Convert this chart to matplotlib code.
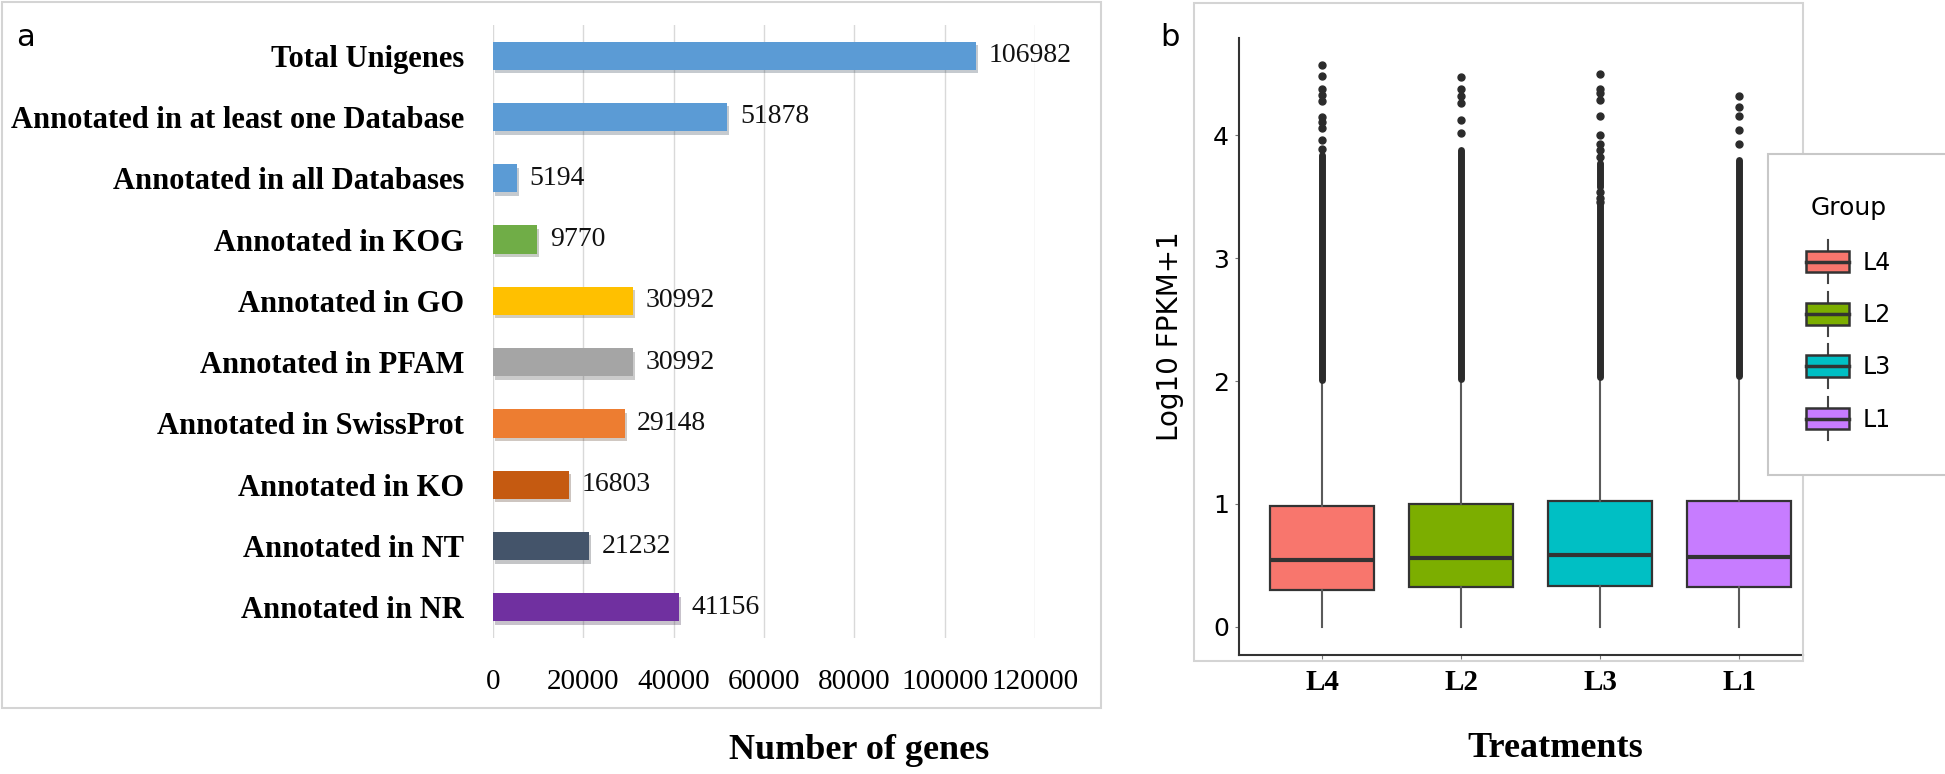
"""
Gene annotation summary (a) and FPKM distribution per treatment (b)
"""
import matplotlib
matplotlib.use('Agg')
from matplotlib import pyplot as plt, ticker, patheffects
from matplotlib.patches import Rectangle, Patch
from matplotlib.lines import Line2D
from matplotlib.legend_handler import HandlerBase

# ---- panel a data ----
categories = ['Total Unigenes', 'Annotated in at least one Database', 'Annotated in all Databases',
              'Annotated in KOG', 'Annotated in GO', 'Annotated in PFAM', 'Annotated in SwissProt',
              'Annotated in KO', 'Annotated in NT', 'Annotated in NR']
gene_counts = [106982, 51878, 5194, 9770, 30992, 30992, 29148, 16803, 21232, 41156]
bar_colors = ['#5b9bd5', '#5b9bd5', '#5b9bd5', '#70ad47', '#ffc000', '#a5a5a5',
              '#ed7d31', '#c55a11', '#44546a', '#7030a0']
x_ticks = [0, 20000, 40000, 60000, 80000, 100000, 120000]

# ---- panel b data ----
groups = ['L4', 'L2', 'L3', 'L1']
q1 = [0.30, 0.32, 0.33, 0.325]
medians = [0.54, 0.56, 0.585, 0.57]
q3 = [0.98, 1.00, 1.02, 1.02]
whisker_low = [0.0, 0.0, 0.0, 0.0]
whisker_high = [2.01, 2.02, 2.03, 2.04]
# runs of outliers so dense they merge into a solid column
dense_outliers = [[(2.01, 3.84)],
                  [(2.02, 3.88)],
                  [(2.03, 3.43), (3.58, 3.77)],
                  [(2.04, 3.80)]]
sparse_outliers = [[4.57, 4.48, 4.38, 4.33, 4.28, 4.15, 4.11, 4.06, 3.96, 3.89],
                   [4.47, 4.38, 4.32, 4.26, 4.12, 4.02],
                   [4.50, 4.38, 4.34, 4.29, 4.16, 4.00, 3.93, 3.88, 3.82, 3.54, 3.49, 3.46],
                   [4.32, 4.23, 4.16, 4.04, 3.93]]
group_colors = ['#f8766d', '#7cae00', '#00bfc4', '#c77cff']

SERIF = ['Liberation Serif', 'DejaVu Serif']
SANS = ['DejaVu Sans']
plt.rcParams['font.family'] = SANS


class BoxKeyHandler(HandlerBase):
    """legend key drawn like a small ggplot box"""
    def create_artists(self, legend, orig_handle, xdescent, ydescent, width, height, fontsize, trans):
        x0, y0 = -xdescent, -ydescent
        cx = x0 + width / 2
        whisk = Line2D([cx, cx], [y0 - 0.5 * height, y0 + 1.5 * height], color='#444444', lw=1.5)
        box = Rectangle((x0, y0), width, height, facecolor=orig_handle.get_facecolor(),
                        edgecolor='#333333', lw=1.8)
        med = Line2D([x0, x0 + width], [y0 + height / 2] * 2, color='#333333', lw=2.5)
        for art in (whisk, box, med):
            art.set_transform(trans)
        return [whisk, box, med]


def draw_bars(ax):
    pos = range(len(categories))
    bars = ax.barh(pos, gene_counts, height=0.46, color=bar_colors, zorder=3)
    for b in bars:
        b.set_path_effects([patheffects.SimplePatchShadow(offset=(1.5, -2.5), alpha=0.25),
                            patheffects.Normal()])
    ax.bar_label(bars, labels=[str(v) for v in gene_counts], padding=9,
                 fontsize=20, family=SERIF, color='#111111')
    ax.set_xlim(0, 120000)
    ax.set_ylim(len(categories) - 0.5, -0.5)
    ax.set_xticks(x_ticks)
    ax.xaxis.set_major_formatter(ticker.StrMethodFormatter('{x:.0f}'))
    ax.set_yticks(list(pos))
    ax.set_yticklabels(categories, fontsize=22, fontweight='bold', family=SERIF)
    for lab in ax.get_xticklabels():
        lab.set_fontsize(21)
        lab.set_family(SERIF)
    ax.tick_params(axis='y', length=0, pad=21)
    ax.tick_params(axis='x', length=0, pad=22)
    ax.grid(axis='x', color='#d9d9d9', lw=1)
    ax.set_axisbelow(True)
    for s in ax.spines.values():
        s.set_visible(False)
    ax.set_xlabel('Number of genes', fontsize=26, fontweight='bold', family=SERIF)
    ax.xaxis.set_label_coords(0.675, -0.183)
    ax.xaxis.label.set_va('center')


def draw_boxes(ax):
    stats = []
    for i, g in enumerate(groups):
        stats.append(dict(label=g, q1=q1[i], med=medians[i], q3=q3[i],
                          whislo=whisker_low[i], whishi=whisker_high[i],
                          fliers=sparse_outliers[i]))
    pos = list(range(1, len(groups) + 1))
    res = ax.bxp(stats, positions=pos, widths=0.75, patch_artist=True, showcaps=False,
                 boxprops=dict(edgecolor='#333333', lw=1.6),
                 medianprops=dict(color='#333333', lw=3),
                 whiskerprops=dict(color='#5a5a5a', lw=1.5),
                 flierprops=dict(marker='o', markersize=5, markerfacecolor='#2b2b2b',
                                 markeredgecolor='#2b2b2b'))
    for patch, c in zip(res['boxes'], group_colors):
        patch.set_facecolor(c)
    for p, runs in zip(pos, dense_outliers):
        for lo, hi in runs:
            ax.vlines(p, lo, hi, colors='#2b2b2b', lw=5, capstyle='round', zorder=3)

    ax.set_xlim(0.4, 4.46)
    ax.set_ylim(-0.23, 4.79)
    ax.set_xticks(pos)
    ax.set_xticklabels(groups, fontsize=21, fontweight='bold', family=SERIF)
    ax.set_yticks([0, 1, 2, 3, 4])
    ax.tick_params(axis='y', labelsize=18, length=3, color='#777777', pad=4)
    ax.tick_params(axis='x', length=3, color='#777777', pad=7)
    for s in ('top', 'right'):
        ax.spines[s].set_visible(False)
    for s in ('left', 'bottom'):
        ax.spines[s].set_color('#333333')
        ax.spines[s].set_linewidth(1.5)
    ax.set_ylabel('Log10 FPKM+1', fontsize=20)
    ax.yaxis.set_label_coords(-0.122, 0.517)
    ax.yaxis.label.set_va('center')
    ax.set_xlabel('Treatments', fontsize=26, fontweight='bold', family=SERIF)
    ax.xaxis.set_label_coords(0.56, -0.151)
    ax.xaxis.label.set_va('center')


fig = plt.figure(figsize=(19.45, 7.74), dpi=100)

# light frames round each panel
fig.add_artist(Rectangle((0.001, 0.085), 0.565, 0.9125, transform=fig.transFigure,
                         fill=False, ec='#d4d4d4', lw=1.5))
fig.add_artist(Rectangle((0.614, 0.146), 0.313, 0.85, transform=fig.transFigure,
                         fill=False, ec='#d4d4d4', lw=1.5))

ax_a = fig.add_axes([0.2535, 0.1757, 0.2787, 0.792])
draw_bars(ax_a)

ax_b = fig.add_axes([0.637, 0.1537, 0.29, 0.797])
draw_boxes(ax_b)

fig.text(0.0129, 0.951, 'a', fontsize=22, ha='center', va='center')
fig.text(0.6015, 0.952, 'b', fontsize=22, ha='center', va='center')

# legend with its own frame, clipped at the right edge like the source
fig.add_artist(Rectangle((0.909, 0.3863), 0.095, 0.4147, transform=fig.transFigure,
                         facecolor='white', ec='#c8c8c8', lw=1.5, zorder=4))
handles = [Patch(facecolor=c, edgecolor='#333333') for c in group_colors]
leg = fig.legend(handles, groups, title='Group', loc='upper center',
                 bbox_to_anchor=(0.9505, 0.762), frameon=False, borderpad=0,
                 fontsize=17, title_fontsize=18, handlelength=1.8, handleheight=1.04,
                 handletextpad=0.6, labelspacing=1.2,
                 handler_map={Patch: BoxKeyHandler()})
leg.set_zorder(5)
leg._legend_box.sep = 22

fig.savefig('out.png', dpi=100)
